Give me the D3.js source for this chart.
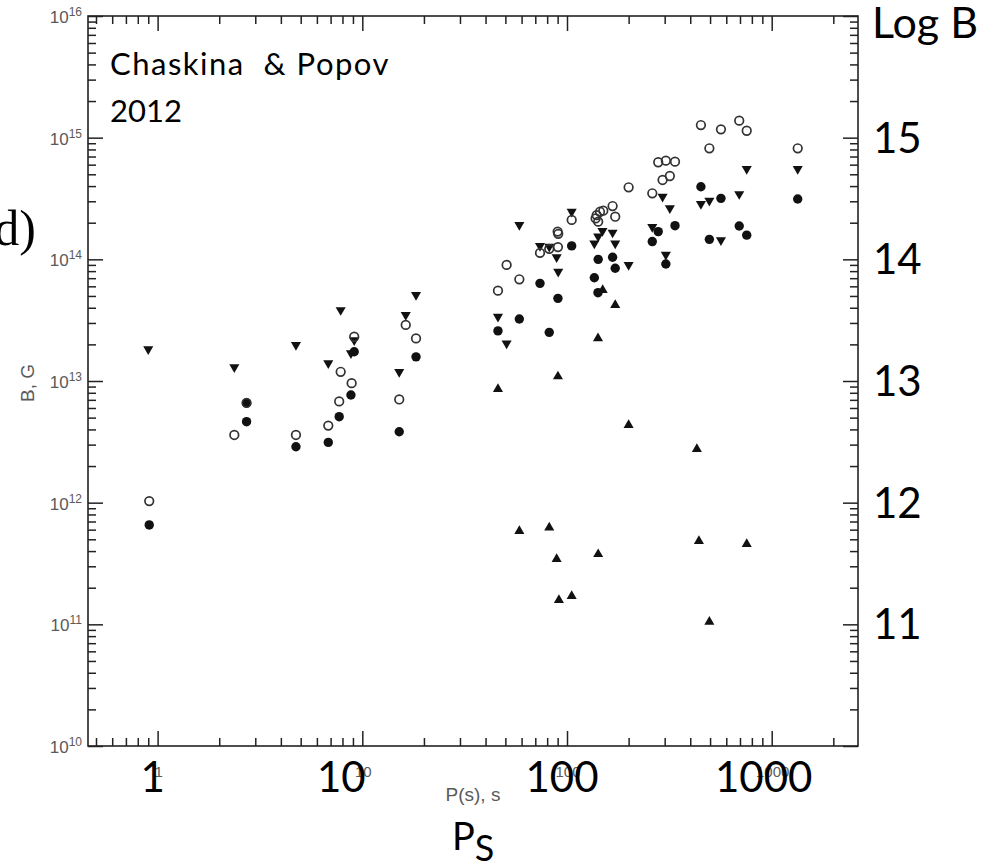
<!DOCTYPE html>
<html>
<head>
<meta charset="utf-8">
<script src="https://cdn.jsdelivr.net/npm/d3@7"></script>
<style>
  body { margin: 0; background: #fff; }
  svg { display: block; }
  .big { font-family: Lato, "Open Sans", sans-serif; fill: #000; }
  .small { font-family: "Liberation Sans", Arial, sans-serif; fill: #5a5a5a; }
</style>
</head>
<body>
<svg id="chart" width="987" height="864"></svg>
<script>
// [P (s), B (G)]
var openCircles = [
  [0.91, 1.03e12], [2.72, 6.6e12], [2.37, 3.6e12], [4.74, 3.6e12], [6.82, 4.3e12],
  [7.71, 6.8e12], [7.84, 1.19e13], [8.87, 9.6e12], [9.13, 2.31e13], [15.15, 7.05e12],
  [16.3, 2.89e13], [18.3, 2.24e13], [46, 5.53e13], [50.7, 9.0e13], [58.5, 6.85e13],
  [73.8, 1.13e14], [81.9, 1.22e14], [90.0, 1.69e14], [90.6, 1.62e14], [90.3, 1.26e14],
  [105.4, 2.11e14], [139.6, 2.31e14], [144.9, 2.46e14], [150.4, 2.51e14], [138, 2.17e14],
  [142, 2.04e14], [167, 2.74e14], [172, 2.24e14], [200, 3.91e14], [261, 3.49e14],
  [279, 6.28e14], [304, 6.47e14], [337, 6.35e14], [293, 4.49e14], [318, 4.84e14],
  [451, 1.27e15], [565, 1.17e15], [694, 1.38e15], [755, 1.14e15], [496, 8.18e14],
  [1340, 8.18e14]
];
var filledCircles = [
  [0.91, 6.56e11], [2.72, 6.6e12], [2.72, 4.63e12], [4.74, 2.88e12], [6.82, 3.13e12],
  [7.71, 5.09e12], [8.80, 7.67e12], [9.13, 1.74e13], [15.15, 3.83e12], [18.3, 1.58e13],
  [46, 2.58e13], [58.5, 3.23e13], [73.8, 6.35e13], [81.9, 2.51e13], [90.3, 4.78e13],
  [105.4, 1.29e14], [142, 1.0e14], [167, 1.04e14], [172, 8.44e13], [136, 7.06e13],
  [141.7, 5.32e13], [261, 1.40e14], [279, 1.69e14], [337, 1.89e14], [304, 9.16e13],
  [451, 3.95e14], [565, 3.17e14], [496, 1.46e14], [694, 1.88e14], [755, 1.58e14],
  [1340, 3.13e14]
];
var downTriangles = [
  [0.90, 1.83e13], [2.37, 1.30e13], [4.74, 1.98e13], [6.82, 1.40e13], [7.84, 3.83e13],
  [9.13, 2.17e13], [8.80, 1.69e13], [15.15, 1.19e13], [16.3, 3.49e13], [18.3, 5.09e13],
  [46, 3.38e13], [50.7, 2.04e13], [58.5, 1.92e14], [73.8, 1.29e14], [81.9, 1.27e14],
  [89, 1.04e14], [90.6, 7.91e13], [105.4, 2.46e14], [149, 1.71e14], [142, 1.54e14],
  [136, 1.35e14], [167, 1.66e14], [172, 1.35e14], [200, 8.99e13], [261, 1.85e14],
  [293, 3.27e14], [318, 2.63e14], [304, 1.09e14], [451, 2.85e14], [496, 3.03e14],
  [565, 1.44e14], [694, 3.44e14], [755, 5.53e14], [1340, 5.53e14]
];
var upTriangles = [
  [46, 8.6e12], [90.3, 1.09e13], [141.7, 2.24e13], [149.4, 5.6e13], [172, 4.21e13],
  [200, 4.35e12], [58.5, 5.85e11], [81.9, 6.23e11], [89, 3.44e11], [142, 3.77e11],
  [91.3, 1.58e11], [105.4, 1.71e11], [496, 1.05e11], [431, 2.76e12], [441, 4.84e11],
  [755, 4.57e11]
];

var xMajor = [1, 10, 100, 1000];
var yMajor = [1e10, 1e11, 1e12, 1e13, 1e14, 1e15, 1e16];
var logBLabels = [11, 12, 13, 14, 15];

var svg = d3.select("#chart");
var plotL = 88, plotR = 858, plotT = 16, plotB = 746;

var x = d3.scaleLog().domain([0.457, 2640]).range([plotL, plotR]);
var y = d3.scaleLog().domain([1e10, 1e16]).range([plotB, plotT]);

var isPow10 = v => Math.abs(Math.log10(v) - Math.round(Math.log10(v))) < 1e-9;
var xMinor = x.ticks().filter(v => !isPow10(v));
var yMinor = y.ticks().filter(v => !isPow10(v));

function styleAxis(g) {
  g.select(".domain").remove();
  g.selectAll(".tick line").attr("stroke", "#222").attr("stroke-width", 1.5);
  g.selectAll(".tick text").remove();
}

// ticks all point into the plot
[[d3.axisBottom, plotB], [d3.axisTop, plotT]].forEach(function(a) {
  svg.append("g").attr("transform", `translate(0,${a[1]})`)
    .call(a[0](x).tickValues(xMinor).tickSize(-8)).call(styleAxis);
  svg.append("g").attr("transform", `translate(0,${a[1]})`)
    .call(a[0](x).tickValues(xMajor).tickSize(-15)).call(styleAxis);
});
[[d3.axisLeft, plotL], [d3.axisRight, plotR]].forEach(function(a) {
  svg.append("g").attr("transform", `translate(${a[1]},0)`)
    .call(a[0](y).tickValues(yMinor).tickSize(-8)).call(styleAxis);
  svg.append("g").attr("transform", `translate(${a[1]},0)`)
    .call(a[0](y).tickValues(yMajor).tickSize(-15)).call(styleAxis);
});

svg.append("rect")
  .attr("x", plotL).attr("y", plotT)
  .attr("width", plotR - plotL).attr("height", plotB - plotT)
  .attr("fill", "none").attr("stroke", "#222").attr("stroke-width", 1.6);

// original small labels
var yl = svg.append("g").selectAll("text")
  .data(yMajor).enter().append("text")
  .attr("class", "small")
  .attr("x", plotL - 6)
  .attr("y", d => y(d) + 7)
  .attr("text-anchor", "end")
  .style("font-size", "17px");
yl.append("tspan").text("10");
yl.append("tspan").attr("dy", -7).style("font-size", "12px").text(d => Math.round(Math.log10(d)));

svg.append("g").selectAll("text")
  .data(xMajor).enter().append("text")
  .attr("class", "small")
  .attr("x", d => x(d) + 1)
  .attr("y", 777)
  .attr("text-anchor", "middle")
  .style("font-size", "15px")
  .text(d => d);

svg.append("text").attr("class", "small")
  .attr("x", 473).attr("y", 801).attr("text-anchor", "middle")
  .style("font-size", "19px").text("P(s), s");

svg.append("text").attr("class", "small")
  .attr("transform", "translate(34,383) rotate(-90)")
  .attr("text-anchor", "middle")
  .style("font-size", "19px").text("B, G");

// markers
var sym = d3.symbol().type(d3.symbolTriangle).size(44);

svg.append("g").selectAll("path")
  .data(upTriangles).enter().append("path")
  .attr("d", sym)
  .attr("transform", d => `translate(${x(d[0])},${y(d[1])})`)
  .attr("fill", "#111");

svg.append("g").selectAll("path")
  .data(downTriangles).enter().append("path")
  .attr("d", sym)
  .attr("transform", d => `translate(${x(d[0])},${y(d[1])}) rotate(180)`)
  .attr("fill", "#111");

svg.append("g").selectAll("circle")
  .data(filledCircles).enter().append("circle")
  .attr("cx", d => x(d[0])).attr("cy", d => y(d[1]))
  .attr("r", 4.7)
  .attr("fill", "#111");

svg.append("g").selectAll("circle")
  .data(openCircles).enter().append("circle")
  .attr("cx", d => x(d[0])).attr("cy", d => y(d[1]))
  .attr("r", 4.3)
  .attr("fill", "none")
  .attr("stroke", "#333")
  .attr("stroke-width", 1.7);

// overlay annotations
var bigOffset = {1: -5, 10: -21, 100: -5, 1000: -8};
svg.append("g").selectAll("text")
  .data(xMajor).enter().append("text")
  .attr("class", "big")
  .attr("x", d => x(d) + bigOffset[d])
  .attr("y", 792)
  .attr("text-anchor", "middle")
  .style("font-size", "42px")
  .text(d => d);

svg.append("g").selectAll("text")
  .data(logBLabels).enter().append("text")
  .attr("class", "big")
  .attr("x", 873)
  .attr("y", d => y(Math.pow(10, d)) + 15)
  .style("font-size", "42px")
  .text(d => d);

svg.append("text").attr("class", "big")
  .attr("x", 872).attr("y", 38)
  .style("font-size", "43px").text("Log B");

var ps = svg.append("text").attr("class", "big")
  .attr("x", 452).attr("y", 850).style("font-size", "38px");
ps.append("tspan").text("P");
ps.append("tspan").attr("dy", 11).style("font-size", "36px").text("S");

svg.append("text").attr("class", "big")
  .attr("x", 110).attr("y", 75)
  .attr("xml:space", "preserve")
  .style("white-space", "pre")
  .style("letter-spacing", "1.5px")
  .style("font-size", "31px").text("Chaskina  & Popov");
svg.append("text").attr("class", "big")
  .attr("x", 110).attr("y", 122)
  .style("font-size", "31px").text("2012");

svg.append("text")
  .attr("x", 36).attr("y", 245)
  .attr("text-anchor", "end")
  .style("font-family", "'Liberation Serif', 'DejaVu Serif', serif")
  .style("font-size", "50px")
  .text("d)");
</script>
</body>
</html>
